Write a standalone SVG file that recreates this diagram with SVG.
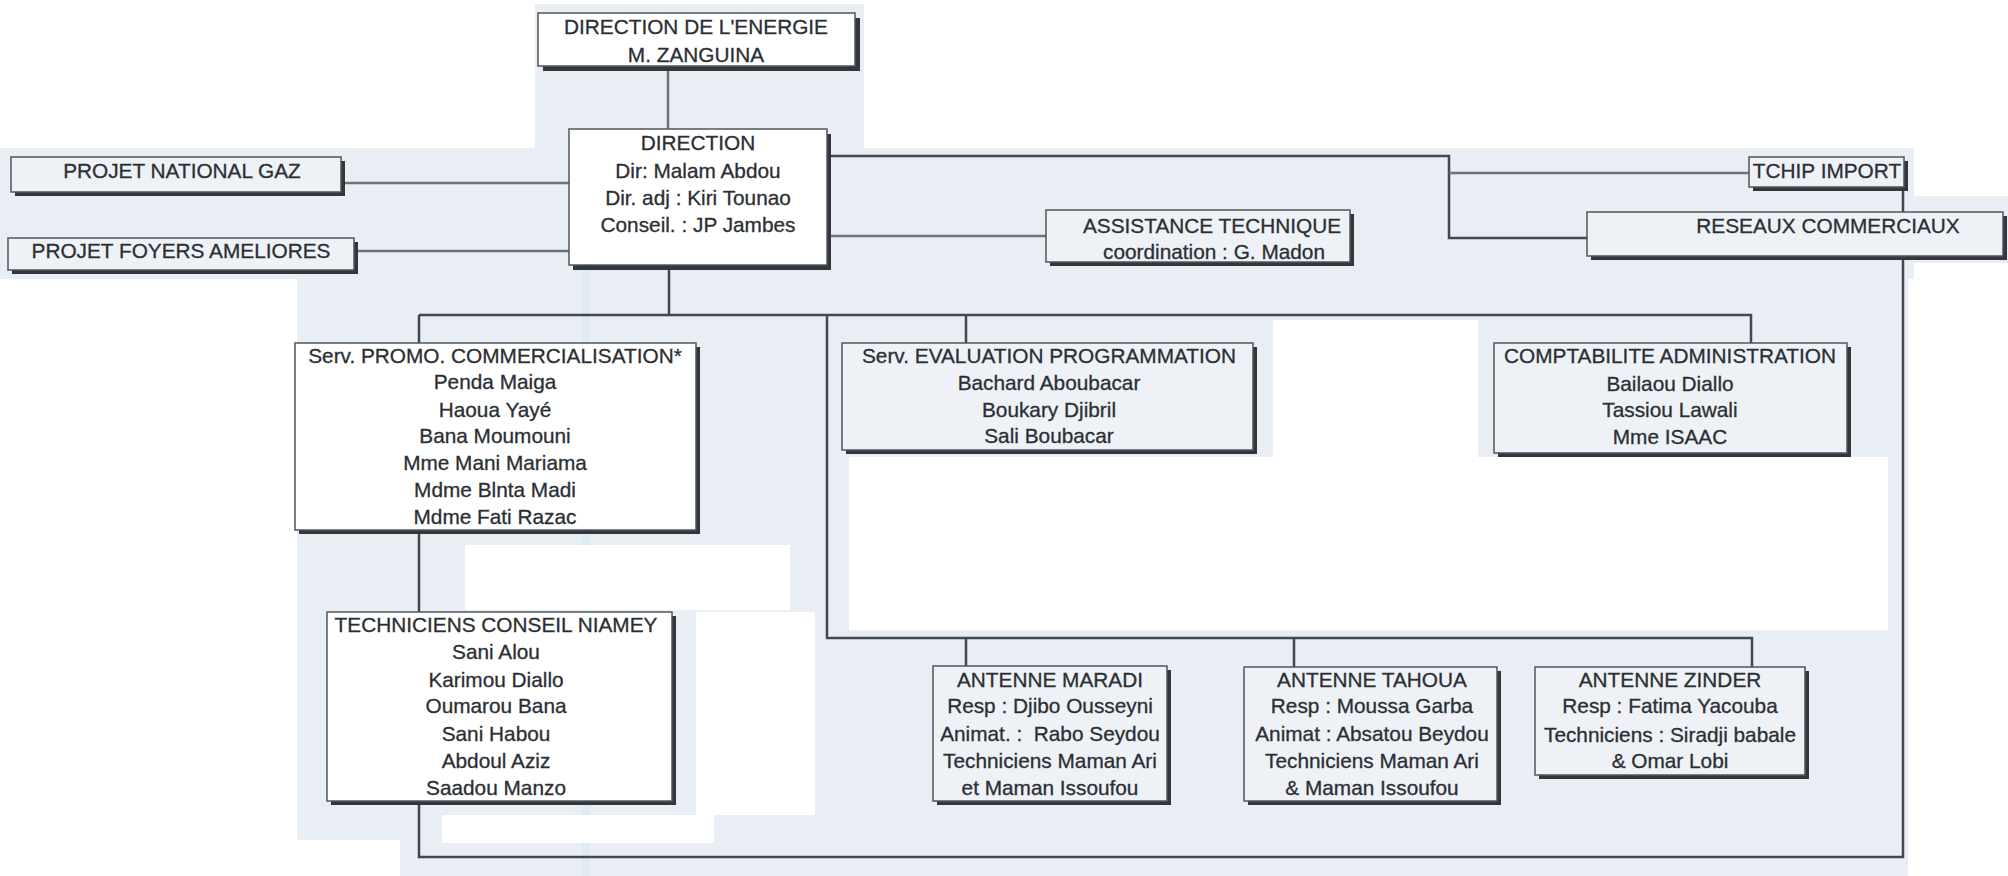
<svg xmlns="http://www.w3.org/2000/svg" width="2008" height="876" viewBox="0 0 2008 876">
<style>
.bg{fill:#e9eef5}
.wh{fill:#ffffff}
.sh{fill:#33373c}
.bx{stroke:#50555b;stroke-width:1.5}
.bw{fill:#ffffff}
.bl{fill:#eef2f7}
.t{font-family:"Liberation Sans",Arial,sans-serif;font-size:20.8px;fill:#2b2f34;stroke:#2b2f34;stroke-width:0.3;text-anchor:middle}
.c{fill:none;stroke:#43484e;stroke-width:2.5}
.cl{stroke:#6e737a}
</style>
<rect width="2008" height="876" fill="#ffffff"/>
<g id="background">
<rect class="bg" x="535" y="4" width="329" height="146"/>
<rect class="bg" x="0" y="148" width="1914" height="131"/>
<rect class="bg" x="297" y="279" width="1611" height="597"/>
<rect class="bg" x="1914" y="196" width="94" height="67"/>
<rect x="582" y="150" width="8" height="726" fill="#d5ebf0" opacity="0.6"/>
<rect class="wh" x="1273" y="320" width="205" height="137"/>
<rect class="wh" x="849" y="457" width="1039" height="173"/>
<rect class="wh" x="465" y="545" width="325" height="65"/>
<rect class="wh" x="696" y="612" width="119" height="203"/>
<rect class="wh" x="442" y="815" width="272" height="28"/>
<rect class="wh" x="297" y="840" width="103" height="36"/>
</g>
<g id="connectors" class="c">
<path class="cl" d="M668,69 V129"/>
<path class="cl" d="M344,183 H569"/>
<path class="cl" d="M358,251 H569"/>
<path class="cl" d="M829,236 H1046"/>
<path d="M829,156 H1449 V238 H1587"/>
<path class="cl" d="M1449,173 H1749"/>
<path d="M1903,190 V857 H419 V315"/>
<path d="M669,268 V315"/>
<path d="M419,315 H1751 V343"/>
<path d="M966,315 V343"/>
<path d="M827,315 V638 H1752 V667"/>
<path d="M966,638 V666"/>
<path d="M1294,638 V667"/>
</g>
<g id="node-direction-energie">
<rect class="sh" x="543" y="18" width="317" height="53"/>
<rect class="bx bw" x="538" y="13" width="317" height="53"/>
<text class="t" x="696" y="34">DIRECTION DE L'ENERGIE</text>
<text class="t" x="696" y="62">M. ZANGUINA</text>
</g>
<g id="node-direction">
<rect class="sh" x="573" y="134" width="258" height="136"/>
<rect class="bx bw" x="569" y="129" width="258" height="136"/>
<text class="t" x="698" y="150">DIRECTION</text>
<text class="t" x="698" y="178">Dir: Malam Abdou</text>
<text class="t" x="698" y="205">Dir. adj : Kiri Tounao</text>
<text class="t" x="698" y="232">Conseil. : JP Jambes</text>
</g>
<g id="node-projet-gaz">
<rect class="sh" x="15" y="161" width="330" height="35"/>
<rect class="bx bl" x="11" y="157" width="330" height="35"/>
<text class="t" x="182" y="178">PROJET NATIONAL GAZ</text>
</g>
<g id="node-projet-foyers">
<rect class="sh" x="12" y="242" width="346" height="32"/>
<rect class="bx bl" x="8" y="238" width="346" height="32"/>
<text class="t" x="181" y="258">PROJET FOYERS AMELIORES</text>
</g>
<g id="node-assistance">
<rect class="sh" x="1050" y="214" width="304" height="52"/>
<rect class="bx bl" x="1046" y="210" width="304" height="52"/>
<text class="t" x="1212" y="233">ASSISTANCE TECHNIQUE</text>
<text class="t" x="1214" y="259">coordination : G. Madon</text>
</g>
<g id="node-tchip">
<rect class="sh" x="1753" y="161" width="155" height="30"/>
<rect class="bx bl" x="1749" y="157" width="155" height="30"/>
<text class="t" x="1827" y="178">TCHIP IMPORT</text>
</g>
<g id="node-reseaux">
<rect class="sh" x="1591" y="216" width="416" height="44"/>
<rect class="bx bl" x="1587" y="212" width="416" height="44"/>
<text class="t" x="1828" y="233">RESEAUX COMMERCIAUX</text>
</g>
<g id="node-promo">
<rect class="sh" x="299" y="347" width="401" height="187"/>
<rect class="bx bw" x="295" y="343" width="401" height="187"/>
<text class="t" x="495" y="363">Serv. PROMO. COMMERCIALISATION*</text>
<text class="t" x="495" y="389">Penda Maiga</text>
<text class="t" x="495" y="417">Haoua Yayé</text>
<text class="t" x="495" y="443">Bana Moumouni</text>
<text class="t" x="495" y="470">Mme Mani Mariama</text>
<text class="t" x="495" y="497">Mdme Blnta Madi</text>
<text class="t" x="495" y="524">Mdme Fati Razac</text>
</g>
<g id="node-evaluation">
<rect class="sh" x="846" y="347" width="411" height="107"/>
<rect class="bx bl" x="842" y="343" width="411" height="107"/>
<text class="t" x="1049" y="363">Serv. EVALUATION PROGRAMMATION</text>
<text class="t" x="1049" y="390">Bachard Aboubacar</text>
<text class="t" x="1049" y="417">Boukary Djibril</text>
<text class="t" x="1049" y="443">Sali Boubacar</text>
</g>
<g id="node-comptabilite">
<rect class="sh" x="1498" y="347" width="353" height="110"/>
<rect class="bx bl" x="1494" y="343" width="353" height="110"/>
<text class="t" x="1670" y="363">COMPTABILITE ADMINISTRATION</text>
<text class="t" x="1670" y="391">Bailaou Diallo</text>
<text class="t" x="1670" y="417">Tassiou Lawali</text>
<text class="t" x="1670" y="444">Mme ISAAC</text>
</g>
<g id="node-techniciens">
<rect class="sh" x="331" y="616" width="345" height="189"/>
<rect class="bx bw" x="327" y="612" width="345" height="189"/>
<text class="t" x="496" y="632">TECHNICIENS CONSEIL NIAMEY</text>
<text class="t" x="496" y="659">Sani Alou</text>
<text class="t" x="496" y="687">Karimou Diallo</text>
<text class="t" x="496" y="713">Oumarou Bana</text>
<text class="t" x="496" y="741">Sani Habou</text>
<text class="t" x="496" y="768">Abdoul Aziz</text>
<text class="t" x="496" y="795">Saadou Manzo</text>
</g>
<g id="node-maradi">
<rect class="sh" x="937" y="670" width="234" height="135"/>
<rect class="bx bl" x="933" y="666" width="234" height="135"/>
<text class="t" x="1050" y="687">ANTENNE MARADI</text>
<text class="t" x="1050" y="713">Resp : Djibo Ousseyni</text>
<text class="t" x="1050" y="741" xml:space="preserve">Animat. :  Rabo Seydou</text>
<text class="t" x="1050" y="768">Techniciens Maman Ari</text>
<text class="t" x="1050" y="795">et Maman Issoufou</text>
</g>
<g id="node-tahoua">
<rect class="sh" x="1248" y="671" width="253" height="134"/>
<rect class="bx bl" x="1244" y="667" width="253" height="134"/>
<text class="t" x="1372" y="687">ANTENNE TAHOUA</text>
<text class="t" x="1372" y="713">Resp : Moussa Garba</text>
<text class="t" x="1372" y="741">Animat : Absatou Beydou</text>
<text class="t" x="1372" y="768">Techniciens Maman Ari</text>
<text class="t" x="1372" y="795">&amp; Maman Issoufou</text>
</g>
<g id="node-zinder">
<rect class="sh" x="1539" y="671" width="270" height="108"/>
<rect class="bx bl" x="1535" y="667" width="270" height="108"/>
<text class="t" x="1670" y="687">ANTENNE ZINDER</text>
<text class="t" x="1670" y="713">Resp : Fatima Yacouba</text>
<text class="t" x="1670" y="742">Techniciens : Siradji babale</text>
<text class="t" x="1670" y="768">&amp; Omar Lobi</text>
</g>
</svg>
